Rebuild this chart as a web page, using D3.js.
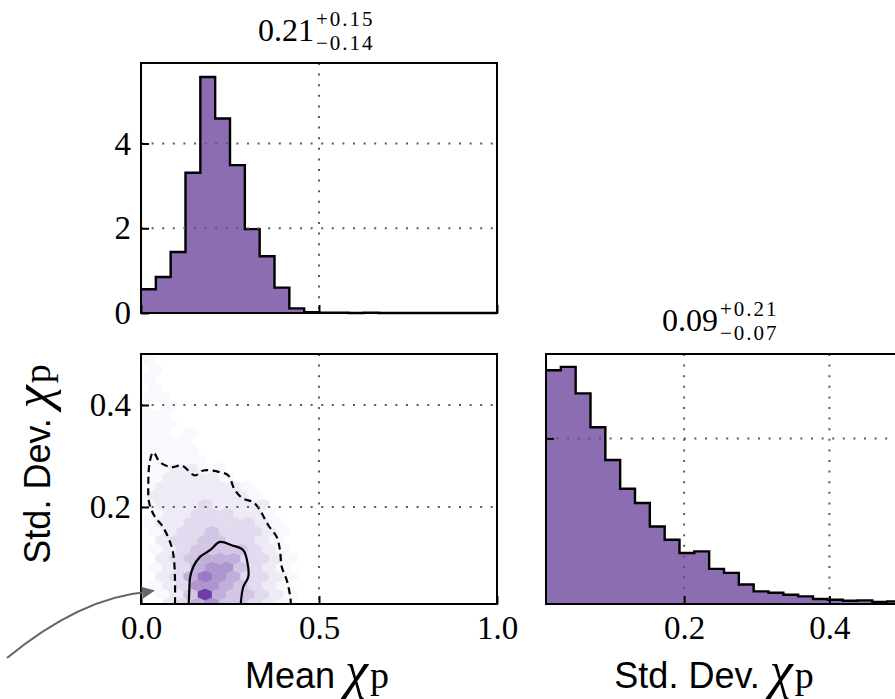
<!DOCTYPE html>
<html><head><meta charset="utf-8">
<script src="https://cdn.jsdelivr.net/npm/d3@7"></script>
<style>body{margin:0;background:#fff}svg{display:block}</style>
</head><body>
<svg id="c" width="895" height="699"></svg>
<script>
// ---------------- data ----------------
const meanRange = [0, 1];              // histogram range of Mean chi_p
const meanDensity = [0.56, 0.85, 1.44, 3.31, 5.57, 4.59, 3.49, 1.98, 1.34, 0.60, 0.11, 0.02,
                     0.01, 0.005, 0, 0.005, 0, 0, 0, 0, 0, 0, 0, 0];
const sdRange = [0.0098, 0.5];         // histogram range of Std. Dev. chi_p
const sdDensity = [7.06, 7.16, 6.36, 5.34, 4.35, 3.48, 3.05, 2.34, 1.94, 1.54, 1.59, 1.06,
                   0.94, 0.59, 0.38, 0.34, 0.28, 0.23, 0.15, 0.13, 0.10, 0.11, 0.06, 0.08];
const meanTicks = [0, 0.5, 1.0];
const meanTickLabels = ["0.0", "0.5", "1.0"];
const topDensityTicks = [0, 2, 4];
const topDensityLabels = ["0", "2", "4"];
const sdTicks = [0.2, 0.4];
const sdTickLabels = ["0.2", "0.4"];
const sdDensityGrid = [5];
const topDensityMax = 5.9;
const sdDensityMax = 7.55;

// hexbin lattice (data units) and levels (0-9), rows from bottom (row -1) upwards
const hexX0Even = 0.02, hexX0Odd = 0.0, hexDx = 0.04, hexY0 = 0.029, hexDy = 0.0176, hexRowStart = -1;
const hexLevels = [
  "002356443210",
  "012495443210",
  "012366543210",
  "023576533210",
  "012356643210",
  "023455533210",
  "012344443210",
  "023344332100",
  "012334333210",
  "122333332100",
  "012233322100",
  "122232222000",
  "122222221000",
  "122222210000",
  "112222100000",
  "112211000000",
  "111110000000",
  "111100000000",
  "111100000000",
  "110100000000",
  "111000000000",
  "110000000000",
  "101000000000",
  "110000000000",
  "010000000000",
  "100000000000",
  "010000000000",
  "100000000000"
];
const contour68 = [[0.134,0.0098],[0.1357,0.0371],[0.1376,0.0606],[0.1469,0.0827],[0.1657,0.1022],
  [0.1938,0.1153],[0.2219,0.1315],[0.2548,0.1251],[0.2874,0.1153],[0.2986,0.0924],[0.3014,0.0631],
  [0.2874,0.0436],[0.2801,0.0098]];
const contour95 = [[0.0955,0.0098],[0.0955,0.0567],[0.0927,0.0958],[0.0862,0.1218],[0.0618,0.1608],
  [0.0393,0.1804],[0.0233,0.2072],[0.0205,0.2462],[0.0253,0.2912],[0.0346,0.3074],[0.0534,0.2879],
  [0.0862,0.2781],[0.1143,0.2814],[0.1517,0.2619],[0.1750,0.2716],[0.2219,0.2683],[0.2452,0.2619],
  [0.2640,0.2326],[0.2874,0.2163],[0.3154,0.2097],[0.3343,0.1935],[0.3576,0.1642],[0.3812,0.1413],
  [0.3904,0.1153],[0.3952,0.0827],[0.4093,0.0567],[0.4185,0.0274],[0.4213,0.0098]];
const titleMean = ["0.21", "+0.15", "\u22120.14"];
const titleSd = ["0.09", "+0.21", "\u22120.07"];
const xLabelMean = ["Mean ", "\u03c7", "p"];
const xLabelSd = ["Std. Dev. ", "\u03c7", "p"];

// ---------------- layout ----------------
const svg = d3.select("#c");
const histColor = "#8d6db1";
const serif = "'Liberation Serif', serif";
const sans = "'Liberation Sans', Arial, sans-serif";
const P = {
  top:   {x0:141, x1:497, y0:63,  y1:313},
  joint: {x0:141, x1:497, y0:354, y1:604},
  right: {x0:546, x1:902, y0:354, y1:604}
};

const xMean = d3.scaleLinear().domain(meanRange).range([P.top.x0, P.top.x1]);
const yTop = d3.scaleLinear().domain([0, topDensityMax]).range([P.top.y1, P.top.y0]);
const ySd = d3.scaleLinear().domain(sdRange).range([P.joint.y1, P.joint.y0]);
const xSd = d3.scaleLinear().domain(sdRange).range([P.right.x0, P.right.x1]);
const yRight = d3.scaleLinear().domain([0, sdDensityMax]).range([P.right.y1, P.right.y0]);

const defs = svg.append("defs");
defs.append("clipPath").attr("id","clipJoint").append("rect")
  .attr("x",P.joint.x0).attr("y",P.joint.y0).attr("width",P.joint.x1-P.joint.x0).attr("height",P.joint.y1-P.joint.y0);

function gridV(g, xs, vals, p){
  g.selectAll(null).data(vals).enter().append("line")
    .attr("x1",d=>xs(d)).attr("x2",d=>xs(d)).attr("y1",p.y0).attr("y2",p.y1)
    .attr("stroke","#5a5a5a").attr("stroke-width",2).attr("stroke-dasharray","2,8.6");
}
function gridH(g, ys, vals, p){
  g.selectAll(null).data(vals).enter().append("line")
    .attr("y1",d=>ys(d)).attr("y2",d=>ys(d)).attr("x1",p.x0).attr("x2",p.x1)
    .attr("stroke","#5a5a5a").attr("stroke-width",2).attr("stroke-dasharray","2,8.6");
}
function frame(p){
  svg.append("rect").attr("x",p.x0).attr("y",p.y0).attr("width",p.x1-p.x0).attr("height",p.y1-p.y0)
    .attr("fill","none").attr("stroke","#000").attr("stroke-width",2);
}
function styleAxis(g, fs){
  g.select(".domain").remove();
  g.selectAll(".tick line").attr("stroke","#000").attr("stroke-width",2);
  g.selectAll(".tick text").attr("font-family",serif).attr("font-size",fs).attr("fill","#000");
}
function hist(xs, ys, range, dens){
  const n = dens.length, w = (range[1]-range[0])/n;
  const pts = dens.map((v,i)=>[range[0]+i*w, v]);
  pts.push([range[1], dens[n-1]]);
  const area = d3.area().x(d=>xs(d[0])).y0(ys(0)).y1(d=>ys(d[1])).curve(d3.curveStepAfter);
  const line = d3.line().x(d=>xs(d[0])).y(d=>ys(d[1])).curve(d3.curveStepAfter);
  svg.append("path").attr("d",area(pts)).attr("fill",histColor);
  svg.append("path").attr("d",line(pts)).attr("fill","none").attr("stroke","#000").attr("stroke-width",2.4);
}
function title(cx, yBase, t){
  const g = svg.append("g").attr("font-family",serif).attr("fill","#000");
  g.append("text").attr("x",cx-5).attr("y",yBase).attr("text-anchor","end").attr("font-size",32).text(t[0]);
  g.append("text").attr("x",cx-3).attr("y",yBase-15).attr("font-size",21).attr("letter-spacing",2).text(t[1]);
  g.append("text").attr("x",cx-3).attr("y",yBase+9).attr("font-size",21).attr("letter-spacing",2).text(t[2]);
}
function axisLabel(x, y, parts, rot){
  const t = svg.append("text").attr("text-anchor","middle").attr("fill","#000")
    .attr("transform",`translate(${x},${y}) rotate(${rot})`);
  t.append("tspan").attr("font-family",sans).attr("font-size",36).text(parts[0]);
  t.append("tspan").attr("font-family",serif).attr("font-style","italic").attr("font-size",52).text(parts[1]);
  t.append("tspan").attr("font-family",serif).attr("font-size",38).attr("dx",2).text(parts[2]);
}

// ---------------- top: Mean histogram ----------------
hist(xMean, yTop, meanRange, meanDensity);
const gTop = svg.append("g");
gridV(gTop, xMean, [0.5], P.top);
gridH(gTop, yTop, [2,4], P.top);
const axTopY = svg.append("g").attr("transform",`translate(${P.top.x0},0)`)
  .call(d3.axisLeft(yTop).tickValues(topDensityTicks).tickFormat((d,i)=>topDensityLabels[i]).tickSize(-8).tickPadding(10));
styleAxis(axTopY, 33);
const axTopX = svg.append("g").attr("transform",`translate(0,${P.top.y1})`)
  .call(d3.axisBottom(xMean).tickValues(meanTicks).tickFormat("").tickSize(-8));
styleAxis(axTopX, 33);
frame(P.top);
title((P.top.x0+P.top.x1)/2, P.top.y0-22, titleMean);

// ---------------- joint: hexbin + contours ----------------
const colorHex = t => d3.interpolateRgb("#ffffff", "#6a3da8")(Math.pow(t, 1.5));
const gJ = svg.append("g").attr("clip-path","url(#clipJoint)");
const hw = (xMean(hexDx) - xMean(0)) / 2;
const syPx = ySd(0) - ySd(2*hexDy);
const hexPts = [[hw, syPx/6],[0, syPx/3],[-hw, syPx/6],[-hw,-syPx/6],[0,-syPx/3],[hw,-syPx/6]];
const hexCells = [];
hexLevels.forEach((row, ri) => {
  const r = hexRowStart + ri;
  const odd = Math.abs(r) % 2 === 1;
  row.split("").forEach((c, k) => {
    const v = +c;
    if (v > 0) hexCells.push({x: (odd ? hexX0Odd : hexX0Even) + k*hexDx, y: hexY0 + r*hexDy, v});
  });
});
gJ.selectAll("path.hex").data(hexCells).enter().append("path").attr("class","hex")
  .attr("d", d => {
    const X = xMean(d.x), Y = ySd(d.y);
    return "M" + hexPts.map(p => [X+p[0], Y+p[1]].join(",")).join("L") + "Z";
  })
  .attr("fill", d => colorHex(d.v/9)).attr("stroke", d => colorHex(d.v/9)).attr("stroke-width",0.5);
const cLine = d3.line().x(d=>xMean(d[0])).y(d=>ySd(d[1])).curve(d3.curveCatmullRom.alpha(0.5));
gJ.append("path").attr("d",cLine(contour95)).attr("fill","none").attr("stroke","#000")
  .attr("stroke-width",2.2).attr("stroke-dasharray","7,4.5");
gJ.append("path").attr("d",cLine(contour68)).attr("fill","none").attr("stroke","#000").attr("stroke-width",2.2);
const gJg = svg.append("g");
gridV(gJg, xMean, [0.5], P.joint);
gridH(gJg, ySd, sdTicks, P.joint);
const axJY = svg.append("g").attr("transform",`translate(${P.joint.x0},0)`)
  .call(d3.axisLeft(ySd).tickValues(sdTicks).tickFormat((d,i)=>sdTickLabels[i]).tickSize(-8).tickPadding(10));
styleAxis(axJY, 33);
const axJX = svg.append("g").attr("transform",`translate(0,${P.joint.y1})`)
  .call(d3.axisBottom(xMean).tickValues(meanTicks).tickFormat((d,i)=>meanTickLabels[i]).tickSize(-8).tickPadding(12));
styleAxis(axJX, 33);
frame(P.joint);

// ---------------- right: Std. Dev. histogram ----------------
hist(xSd, yRight, sdRange, sdDensity);
const gR = svg.append("g");
gridV(gR, xSd, sdTicks, P.right);
gridH(gR, yRight, sdDensityGrid, P.right);
const axRY = svg.append("g").attr("transform",`translate(${P.right.x0},0)`)
  .call(d3.axisLeft(yRight).tickValues(sdDensityGrid).tickFormat("").tickSize(-8));
styleAxis(axRY, 33);
const axRX = svg.append("g").attr("transform",`translate(0,${P.right.y1})`)
  .call(d3.axisBottom(xSd).tickValues(sdTicks).tickFormat((d,i)=>sdTickLabels[i]).tickSize(-8).tickPadding(12));
styleAxis(axRX, 33);
frame(P.right);
title((P.right.x0+P.right.x1)/2 - 1, P.right.y0-23, titleSd);

// ---------------- axis labels ----------------
axisLabel((P.joint.x0+P.joint.x1)/2 - 2, 688, xLabelMean, 0);
axisLabel((P.right.x0+P.right.x1)/2 - 10, 688, xLabelSd, 0);
axisLabel(50, 464, xLabelSd, -90);

// ---------------- annotation arrow ----------------
const arrowPath = d3.path();
arrowPath.moveTo(7, 658);
arrowPath.quadraticCurveTo(80, 598, 146, 592);
svg.append("path").attr("d", arrowPath.toString()).attr("fill","none").attr("stroke","#666").attr("stroke-width",2);
const tip = [155, 590.5];
const ang = Math.atan2(590.5-592, 155-146);
const hl = 13, hwid = 6;
const bx = tip[0]-hl*Math.cos(ang), by = tip[1]-hl*Math.sin(ang);
svg.append("path")
  .attr("d", `M${tip[0]},${tip[1]}L${bx - hwid*Math.sin(ang)},${by + hwid*Math.cos(ang)}L${bx + hwid*Math.sin(ang)},${by - hwid*Math.cos(ang)}Z`)
  .attr("fill","#666");
</script>
</body></html>
